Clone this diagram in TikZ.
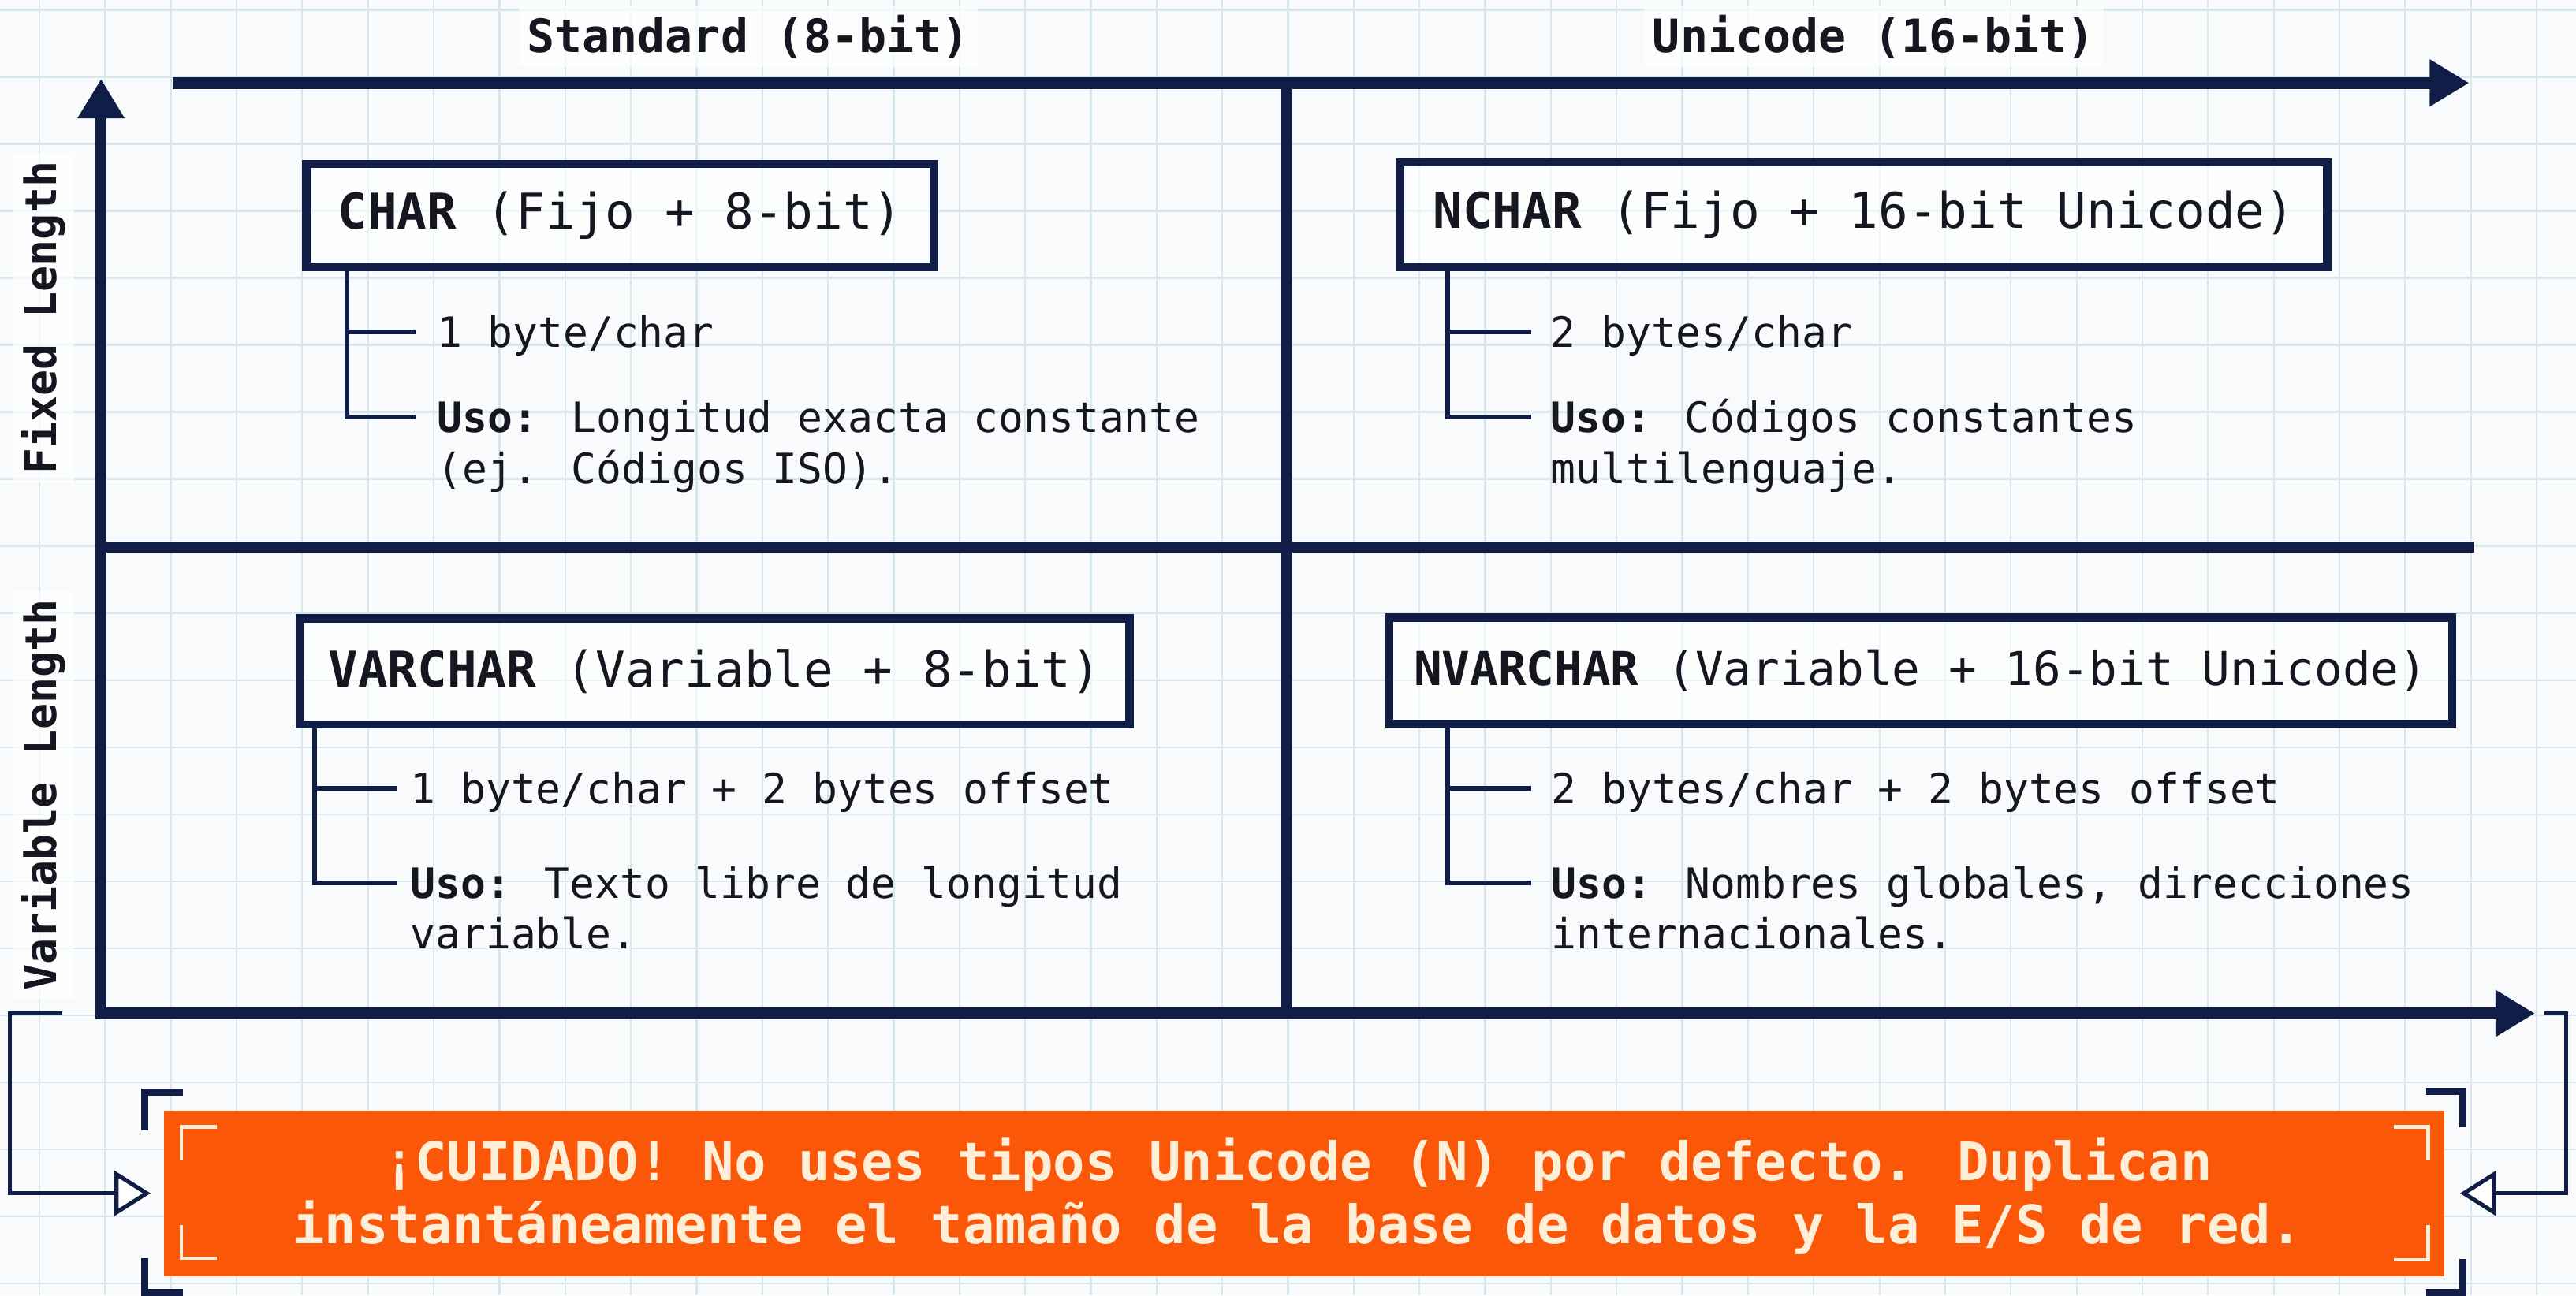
\documentclass[tikz,border=0pt]{standalone}
\usepackage{fontspec}
\setmonofont{DejaVu Sans Mono}
\newfontfamily\dmono{DejaVu Sans Mono}
\usetikzlibrary{arrows.meta}
\definecolor{navy}{HTML}{101D47}
\definecolor{ink}{HTML}{15161F}
\definecolor{gridc}{HTML}{D6E8EC}
\definecolor{bgc}{HTML}{F8FAFB}
\definecolor{orng}{HTML}{FA5709}
\definecolor{cream}{HTML}{FFEFD9}
\newcommand\twol[2]{\begin{tabular}[t]{@{}l@{}}#1\\#2\end{tabular}}
\newcommand\twoc[2]{\begin{tabular}[t]{@{}c@{}}#1\\#2\end{tabular}}
\tikzset{
  gridline/.style={draw=gridc, line width=0.6pt},
  axis/.style={draw=navy, line width=4pt, line join=miter},
  bigtip/.style={-{Triangle[length=13.7pt,width=15.4pt]}},
  hdr/.style={font=\dmono\bfseries\fontsize{15.9pt}{19pt}\selectfont, text=ink, inner sep=3pt, fill=white, fill opacity=0.7, text opacity=1, anchor=base},
  rowlab/.style={font=\dmono\bfseries\fontsize{15pt}{18pt}\selectfont, text=ink, inner sep=3pt, fill=white, fill opacity=0.7, text opacity=1, rotate=90, anchor=base},
  tbox/.style={draw=navy, line width=2.8pt, inner sep=0pt, fill=white, fill opacity=0.6, text opacity=1, text=ink, font=\dmono\fontsize{17.1pt}{20pt}\selectfont},
  tree/.style={draw=navy, line width=1.6pt},
  body/.style={font=\dmono\fontsize{14.46pt}{17.64pt}\selectfont, text=ink, inner sep=0pt, anchor=base west},
  banner/.style={fill=orng, draw=none, inner sep=0pt},
  warn/.style={font=\dmono\bfseries\fontsize{18.36pt}{21.9pt}\selectfont, text=cream, inner sep=0pt, anchor=base},
  outbr/.style={draw=navy, line width=2.56pt, line cap=butt, line join=miter},
  inbr/.style={draw=cream, line width=1.2pt, line cap=butt, line join=miter},
  conn/.style={draw=navy, line width=1.42pt, line join=miter},
  opentip/.style={-{Triangle[open, fill=white, length=12.5pt, width=15.4pt]}}
}
\begin{document}
\begin{tikzpicture}[x=0.02cm,y=-0.02cm]
\path[use as bounding box, fill=bgc] (0,0) rectangle (1568,788.6);
% grid
\foreach \i in {0,...,38} \draw[gridline] ({24+40*\i},0) -- ({24+40*\i},788.6);
\foreach \j in {0,...,19} \draw[gridline] (0,{6+40.8*\j}) -- (1568,{6+40.8*\j});
% axes
\coordinate (ytip) at (61.5,48);
\coordinate (orig) at (61.5,617);
\coordinate (xtip) at (1543,617);
\coordinate (tstart) at (105,50.5);
\coordinate (ttip) at (1503,50.5);
\coordinate (vtop) at (783,50.5);
\coordinate (vbot) at (783,617);
\coordinate (mleft) at (61.5,333);
\coordinate (mright) at (1506,333);
\draw[axis, {Triangle[length=13.7pt,width=15.4pt]}-{Triangle[length=13.7pt,width=15.4pt]}] (ytip) -- (orig) -- (xtip);
\draw[axis, bigtip] (tstart) -- (ttip);
\draw[axis] (vtop) -- (vbot);
\draw[axis] (mleft) -- (mright);
% headers
\node[hdr] (hstd) at (455.5,32) {Standard (8-bit)};
\node[hdr] (huni) at (1140.5,32) {Unicode (16-bit)};
\node[rowlab] (lfix) at (34.4,193.5) {Fixed Length};
\node[rowlab] (lvar) at (34.4,484) {Variable Length};
% boxes
\node[tbox, minimum width=382*0.02cm, minimum height=62.5*0.02cm] (char) at (377.5,131.25) {\textbf{CHAR} (Fijo + 8-bit)};
\node[tbox, minimum width=564*0.02cm, minimum height=63.5*0.02cm] (nchar) at (1134.5,130.75) {\textbf{NCHAR} (Fijo + 16-bit Unicode)};
\node[tbox, minimum width=505*0.02cm, minimum height=64.5*0.02cm] (varchar) at (435,408.75) {\textbf{VARCHAR} (Variable + 8-bit)};
\node[tbox, minimum width=647*0.02cm, minimum height=64.5*0.02cm, font=\dmono\fontsize{16.2pt}{19pt}\selectfont] (nvarchar) at (1169,408.25) {\textbf{NVARCHAR} (Variable + 16-bit Unicode)};
% trees
\coordinate (cx) at (211,0);
\coordinate (ca) at (253,202);
\coordinate (cb) at (253,254);
\draw[tree] (char.south -| cx) |- (cb);
\draw[tree] (cx |- ca) -- (ca);
\node[body] (cat) at (266,211.3) {1 byte/char};
\node[body] (cbt) at (266,263.3) {\twol{\textbf{Uso:} Longitud exacta constante}{(ej. Códigos ISO).}};
\coordinate (nx) at (881,0);
\coordinate (na) at (932,202);
\coordinate (nb) at (932,254);
\draw[tree] (nchar.south -| nx) |- (nb);
\draw[tree] (nx |- na) -- (na);
\node[body] (nat) at (943.5,211.3) {2 bytes/char};
\node[body] (nbt) at (943.5,263.3) {\twol{\textbf{Uso:} Códigos constantes}{multilenguaje.}};
\coordinate (vx) at (191.5,0);
\coordinate (va) at (242,480);
\coordinate (vb) at (242,537.5);
\draw[tree] (varchar.south -| vx) |- (vb);
\draw[tree] (vx |- va) -- (va);
\node[body] (vat) at (249.5,489.3) {1 byte/char + 2 bytes offset};
\node[body] (vbt) at (249.5,546.8) {\twol{\textbf{Uso:} Texto libre de longitud}{variable.}};
\coordinate (wx) at (881,0);
\coordinate (wa) at (932,480);
\coordinate (wb) at (932,537.5);
\draw[tree] (nvarchar.south -| wx) |- (wb);
\draw[tree] (wx |- wa) -- (wa);
\node[body] (wat) at (944,489.3) {2 bytes/char + 2 bytes offset};
\node[body] (wbt) at (944,546.8) {\twol{\textbf{Uso:} Nombres globales, direcciones}{internacionales.}};
% banner
\node[banner, minimum width=1388*0.02cm, minimum height=101*0.02cm] (ban) at (794,726.5) {};
\node[warn] (warntxt) at (790,718.8) {\twoc{¡CUIDADO! No uses tipos Unicode (N) por defecto. Duplican}{instantáneamente el tamaño de la base de datos y la E/S de red.}};
% inner cream brackets
\draw[inbr] (132,686) -- (110.4,686) -- (110.4,706.5);
\draw[inbr] (110.4,746) -- (110.4,766) -- (132,766);
\draw[inbr] (1457,686) -- (1478,686) -- (1478,706.5);
\draw[inbr] (1478,746) -- (1478,767) -- (1457,767);
% outer navy brackets
\draw[outbr] (111.5,665) -- (88,665) -- (88,688);
\draw[outbr] (88,766) -- (88,787) -- (111.5,787);
\draw[outbr] (1477,664.5) -- (1499,664.5) -- (1499,686.5);
\draw[outbr] (1499,766.5) -- (1499,787) -- (1477,787);
% side connectors
\coordinate (lstart) at (38,617);
\coordinate (rstart) at (1549,617);
\draw[conn, opentip] (lstart) -- (6,617) |- ([xshift=-8*0.02cm]ban.west);
\draw[conn, opentip] (rstart) -- (1562,617) |- ([xshift=9*0.02cm]ban.east);
\end{tikzpicture}
\end{document}
